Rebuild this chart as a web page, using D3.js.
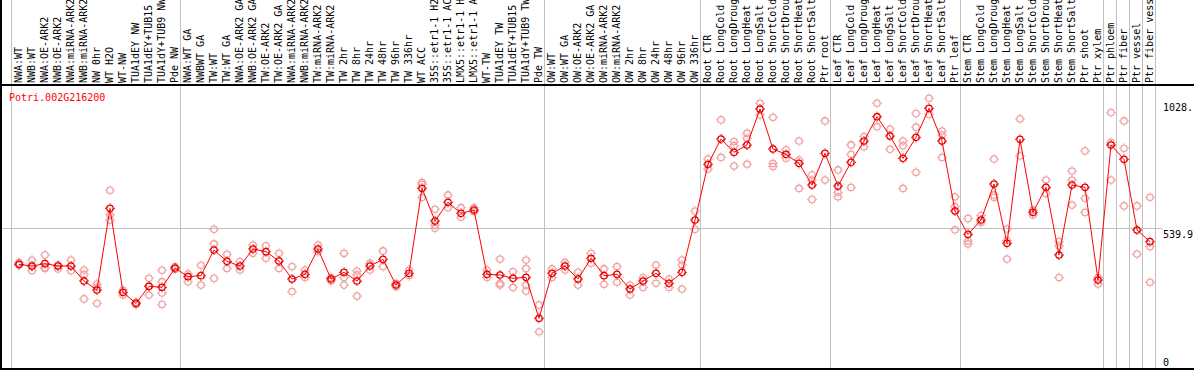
<!DOCTYPE html>
<html>
<head>
<meta charset="utf-8">
<script src="https://cdn.jsdelivr.net/npm/d3@7"></script>
<style>
  body { margin: 0; background: #fff; overflow: hidden; }
  svg text { font-family: "DejaVu Sans Mono", monospace; font-size: 10px; }
</style>
</head>
<body>
<div id="wrapper"></div>
<script>
// sample names, one per column
const samples = ["NWA:WT","NWB:WT","NWA:OE-ARK2","NWB:OE-ARK2","NWA:miRNA-ARK2","NWB:miRNA-ARK2","NW 0hr","WT H2O","WT-NW","TUA1dEY NW","TUA1dEY+TUB15","TUA1dY+TUB9 NW","Pde NW",
  "NWA:WT GA","NWBWT GA","TW:WT","TW:WT GA","NWA:OE-ARK2 GA","NWB:OE-ARK2 GA","TW:OE-ARK2","TW:OE-ARK2 GA","NWA:miRNA-ARK2","NWB:miRNA-ARK2","TW:miRNA-ARK2","TW:miRNA-ARK2","TW 2hr","TW 8hr","TW 24hr","TW 48hr","TW 96hr","TW 336hr","WT ACC","35S::etr1-1 H2O","35S::etr1-1 ACC","LMX5::etr1-1 H2O","LMX5::etr1-1 ACC","WT-TW","TUA1dEY TW","TUA1dEY+TUB15","TUA1dY+TUB9 TW","Pde TW",
  "OW:WT","OW:WT GA","OW:OE-ARK2","OW:OE-ARK2 GA","OW:miRNA-ARK2","OW:miRNA-ARK2","OW 2hr","OW 8hr","OW 24hr","OW 48hr","OW 96hr","OW 336hr",
  "Root CTR","Root LongCold","Root LongDrought","Root LongHeat","Root LongSalt","Root ShortCold","Root ShortDrought","Root ShortHeat","Root ShortSalt","Ptr root",
  "Leaf CTR","Leaf LongCold","Leaf LongDrought","Leaf LongHeat","Leaf LongSalt","Leaf ShortCold","Leaf ShortDrought","Leaf ShortHeat","Leaf ShortSalt","Ptr leaf",
  "Stem CTR","Stem LongCold","Stem LongDrought","Stem LongHeat","Stem LongSalt","Stem ShortCold","Stem ShortDrought","Stem ShortHeat","Stem ShortSalt","Ptr shoot",
  "Ptr xylem","Ptr phloem","Ptr fiber","Ptr vessel","Ptr fiber vessel"]

// mean expression per sample
const means = [401.7,395.3,404.3,395.3,395.3,337.7,303.2,616.6,294.2,252.0,317.3,313.4,387.6,
  354.4,358.2,456.7,413.2,395.3,460.5,450.3,414.5,345.4,363.3,460.5,345.4,371.0,337.7,395.3,420.9,322.4,367.2,693.4,568.0,639.7,597.4,610.2,363.3,360.8,348.0,351.8,194.5,
  367.2,395.3,345.4,424.7,358.2,363.3,307.0,337.7,367.2,328.8,371.0,571.8,
  785.5,882.7,831.5,859.7,997.9,844.3,823.9,789.3,706.2,827.7,
  702.3,793.2,875.0,968.4,894.2,808.5,889.1,1000.4,875.0,606.4,
  516.8,571.8,710.0,482.3,881.4,601.3,697.2,437.5,706.2,697.2,
  341.6,859.7,804.7,533.5,488.7]

// replicate values per sample
const replicates = [[409,402,399],[418,377,393],[438,389,386],[399,384],[418,377],[380,363,269],[326,313,252],[686,591,571],[303,284],[256,248],[348,284,319],[379,335,292,248],[393,383],
  [365,335],[398,322],[536,480,348],[440,386],[412,380],[476,444],[473,425],[444,386],[393,297],[380,351],[476,450],[351,338],[444,351,322],[376,361,280],[406,380],[453,393],[329,316],[380,358],[716,709,658],[613,553,540],[668,619],[619,582],[619,604],[380,351],[422,329,322],[374,313],[418,386,322,299],[246,143],
  [384,351],[409,380],[371,322],[444,406],[384,325],[393,333],[322,284],[351,313],[399,329],[345,313],[418,399,307],[606,536],
  [806,768],[956,812],[873,857,779],[905,885,786],[1020,975],[966,789,777],[841,809],[875,802,693],[745,725,651],[952,725],
  [764,678,661],[860,824,697],[892,853],[1020,930],[921,843],[875,857,693],[981,928,755],[1039,977],[913,898,812],[661,623,534],
  [578,491,480],[589,562],[806,668,659],[537,493,422],[960,818],[610,591],[725,674],[489,472,351],[760,725,629],[837,655,601],
  [351,326],[984,870,725],[952,847,626],[626,441],[659,470,333]]

const geneName = "Potri.002G216200"
// group separators drawn after these column indices (-1 = before first)
const groupEnds = [-1, 12, 40, 52, 62, 72, 83, 84, 85, 86, 87]
const yTicks = [1028, 539.9, 0]
const yTickLabels = ["1028.", "539.9", "0"]
const yGrid = [539.9]

function drawChart() {
  const dimensions = {
    width: 1194,
    height: 370,
    margin: { top: 85, right: 39, bottom: 1, left: 11 },
  }

  const wrapper = d3.select("#wrapper")
    .append("svg")
      .attr("width", dimensions.width)
      .attr("height", dimensions.height)

  // scales
  const xScale = d3.scaleBand()
    .domain(d3.range(samples.length))
    .range([dimensions.margin.left, dimensions.width - dimensions.margin.right])
  const xPoint = i => xScale(i) + 8
  const yScale = d3.scaleLinear()
    .domain([0, 1090])
    .range([dimensions.height - dimensions.margin.bottom, dimensions.margin.top])

  // horizontal gridline
  wrapper.selectAll(".hgrid")
    .data(yGrid)
    .join("line")
      .attr("x1", 2).attr("x2", dimensions.width - dimensions.margin.right + 7)
      .attr("y1", d => Math.round(yScale(d)) + 0.5)
      .attr("y2", d => Math.round(yScale(d)) + 0.5)
      .attr("stroke", "#c0c0c0")

  // group separators, full height
  const sepX = i => xScale.range()[0] + (i + 1) * xScale.bandwidth()
  wrapper.selectAll(".sep")
    .data(groupEnds)
    .join("line")
      .attr("x1", d => Math.round(sepX(d)) + 0.5)
      .attr("x2", d => Math.round(sepX(d)) + 0.5)
      .attr("y1", 0).attr("y2", dimensions.height)
      .attr("stroke", "#c0c0c0")

  // borders
  wrapper.append("line")
    .attr("x1", 0).attr("x2", dimensions.width)
    .attr("y1", dimensions.margin.top).attr("y2", dimensions.margin.top)
    .attr("stroke", "#000").attr("stroke-width", 2)
  wrapper.append("line")
    .attr("x1", 0).attr("x2", dimensions.width)
    .attr("y1", dimensions.height - 1).attr("y2", dimensions.height - 1)
    .attr("stroke", "#000").attr("stroke-width", 2)
  wrapper.append("line")
    .attr("x1", 1).attr("x2", 1)
    .attr("y1", 0).attr("y2", dimensions.height)
    .attr("stroke", "#000").attr("stroke-width", 2)

  // sample labels (rotated)
  wrapper.selectAll(".lab")
    .data(samples)
    .join("text")
      .attr("transform", (d, i) => `translate(${xPoint(i) + 3},${dimensions.margin.top - 2}) rotate(-90)`)
      .attr("fill", "#000")
      .text(d => d)

  // y labels on the right
  wrapper.selectAll(".ylab")
    .data(yTicks)
    .join("text")
      .attr("x", dimensions.width - dimensions.margin.right + 8)
      .attr("y", d => Math.min(yScale(d) + 10, dimensions.height - 4))
      .attr("fill", "#000")
      .text((d, i) => yTickLabels[i])

  // gene name
  wrapper.append("text")
    .attr("x", 9)
    .attr("y", dimensions.margin.top + 16)
    .attr("fill", "#ff0000")
    .text(geneName)

  const marker = (g, color) => {
    g.append("circle").attr("r", 3.2)
      .attr("fill", "none").attr("stroke", color).attr("stroke-width", 1.3)
    g.append("path")
      .attr("d", "M0,-5V-4M0,4V5M-5,0H-4M4,0H5")
      .attr("stroke", color).attr("stroke-width", 1)
  }

  // replicates
  const repData = replicates.flatMap((arr, i) => arr.map(v => ({ i, v })))
  wrapper.selectAll(".rep")
    .data(repData)
    .join("g")
      .attr("transform", d => `translate(${xPoint(d.i)},${yScale(d.v)})`)
      .each(function() { marker(d3.select(this), "#f0a0a0") })

  // mean line
  const line = d3.line()
    .x((d, i) => xPoint(i))
    .y(d => yScale(d))
  wrapper.append("path")
    .datum(means)
    .attr("d", line)
    .attr("fill", "none")
    .attr("stroke", "#ff0000")
    .attr("stroke-width", 1)

  // mean points
  wrapper.selectAll(".mean")
    .data(means)
    .join("g")
      .attr("transform", (d, i) => `translate(${xPoint(i)},${yScale(d)})`)
      .each(function() {
        const g = d3.select(this)
        marker(g, "#ff0000")
        g.append("circle").attr("r", 3.2)
          .attr("fill", "none").attr("stroke", "#600").attr("stroke-width", 0.6)
          .attr("stroke-dasharray", "2 3")
      })
}

drawChart()
</script>
</body>
</html>
